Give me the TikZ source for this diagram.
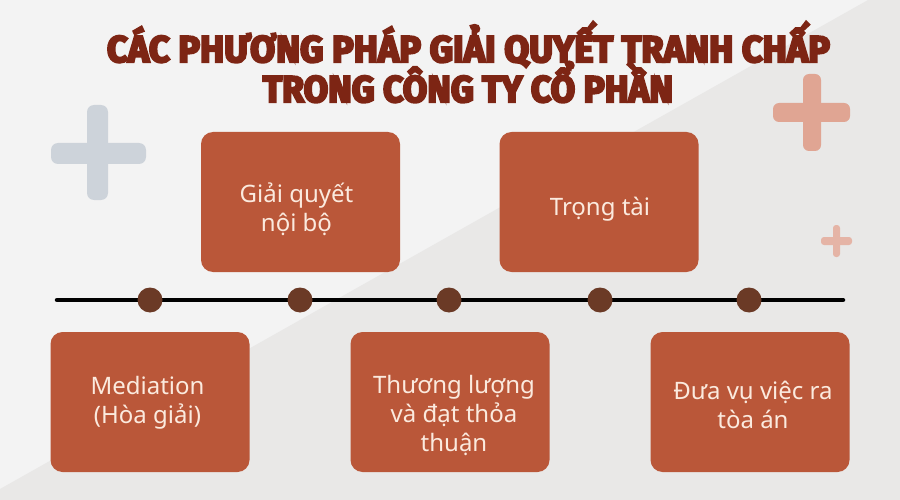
\documentclass[tikz,border=0pt]{standalone}
\usepackage{fontspec}
\usepackage{graphicx}
\usetikzlibrary{calc}
\setmainfont{Noto Sans}
\newfontfamily\titlefont{Fira Sans}[BoldFeatures={FakeBold=6}]
\definecolor{bgA}{RGB}{243,243,243}
\definecolor{bgB}{RGB}{233,232,231}
\definecolor{titlec}{RGB}{125,37,20}
\definecolor{boxc}{RGB}{186,87,57}
\definecolor{textc}{RGB}{251,234,222}
\definecolor{dotc}{RGB}{107,58,38}
\definecolor{plusgray}{RGB}{205,211,218}
\definecolor{plussalmon}{RGB}{224,165,147}
\definecolor{pluslight}{RGB}{229,180,166}
\tikzset{
  boxnode/.style={fill=boxc, rounded corners=12pt, inner sep=0pt, minimum width=199pt, minimum height=140pt},
  txt/.style={text=textc, font=\fontsize{24}{29}\selectfont, align=center, inner sep=0pt},
  titletxt/.style={text=titlec, font=\titlefont\bfseries\fontsize{37}{37}\selectfont, inner sep=0pt},
  dotnode/.style={circle, fill=dotc, minimum size=25pt, inner sep=0pt},
  timeline/.style={line width=4.5pt, line cap=round, black}
}
\begin{document}
\begin{tikzpicture}[x=1pt,y=-1pt]
% background
\fill[bgA] (0,0) rectangle (900,500);
\fill[bgB] (868,0) -- (900,0) -- (900,500) -- (0,500) -- (0,489) -- cycle;
\useasboundingbox (0,0) rectangle (900,500);
% decorative pluses
\fill[plusgray, rounded corners=7pt] (87,105) rectangle (108,200);
\fill[plusgray, rounded corners=7pt] (51,143) rectangle (146,164);
\fill[plussalmon, rounded corners=6pt] (803,74) rectangle (821,151);
\fill[plussalmon, rounded corners=6pt] (773,103) rectangle (850,122);
\fill[pluslight, rounded corners=3pt] (833,225) rectangle (840,257);
\fill[pluslight, rounded corners=3pt] (821,237) rectangle (852,245);
% title
\node[titletxt, anchor=base] (title1) at (468.5,62) {\resizebox{723pt}{\height}{CÁC PHƯƠNG PHÁP GIẢI QUYẾT TRANH CHẤP}};
\node[titletxt, anchor=base] (title2) at (468,102) {\resizebox{410pt}{\height}{TRONG CÔNG TY CỔ PHẦN}};
% boxes
\node[boxnode] (b1) at (300.5,202) {};
\node[boxnode] (b2) at (599,202) {};
\node[boxnode] (b3) at (150,402) {};
\node[boxnode] (b4) at (450,402) {};
\node[boxnode] (b5) at (750,402) {};
\node[txt] (t1) at ($(b1.center)+(-4,7)$) {Giải quyết\\nội bộ};
\node[txt] (t2) at ($(b2.center)+(1,7.5)$) {Trọng tài};
\node[txt] (t3) at ($(b3.center)+(-2.5,0.5)$) {Mediation\\(Hòa giải)};
\node[txt] (t4) at ($(b4.center)+(4,13)$) {Thương lượng\\và đạt thỏa\\thuận};
\node[txt] (t5) at ($(b5.center)+(3,3)$) {Đưa vụ việc ra\\tòa án};
% timeline
\coordinate (L) at (57,300);
\coordinate (R) at (843,300);
\draw[timeline] (L) -- (R);
\node[dotnode] (d1) at (150,300) {};
\node[dotnode] (d2) at (300,300) {};
\node[dotnode] (d3) at (449,300) {};
\node[dotnode] (d4) at (600,300) {};
\node[dotnode] (d5) at (749,300) {};
\end{tikzpicture}
\end{document}
